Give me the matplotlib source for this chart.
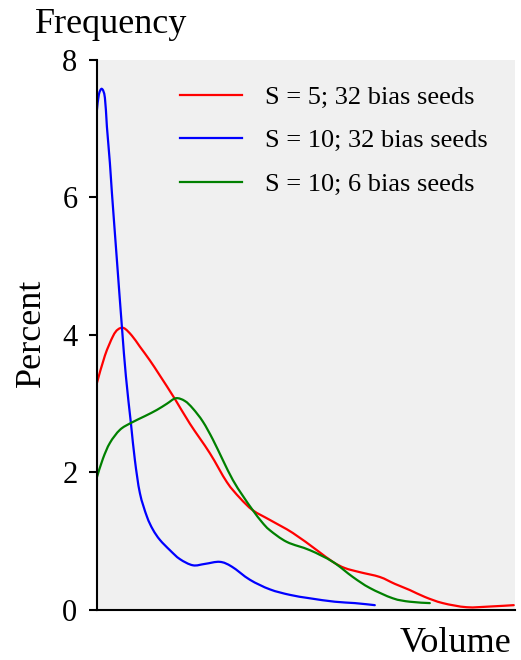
import matplotlib
matplotlib.use('Agg')
import matplotlib.pyplot as plt
from matplotlib.path import Path
from matplotlib.patches import PathPatch
from matplotlib.lines import Line2D

plt.rcParams['font.family'] = ['Liberation Serif', 'DejaVu Serif']

# volume (arbitrary units) vs. percent for each run
x_s5_32 = [0, 0.8, 1.6, 2.1, 2.7, 3.5, 4.3, 5.3, 6.3, 7.8, 9.3, 11.3, 13.0, 14.3, 15.6, 17.3,
           19.6, 22.0, 23.6, 24.8, 26.3, 28.3, 29.8, 31.3, 32.8, 34.6, 37.0, 39.3, 41.7]
y_s5_32 = [3.30, 3.70, 3.98, 4.08, 4.10, 3.99, 3.83, 3.63, 3.41, 3.07, 2.71, 2.28, 1.86, 1.63, 1.45, 1.31,
           1.12, 0.87, 0.70, 0.61, 0.55, 0.48, 0.38, 0.29, 0.19, 0.10, 0.04, 0.05, 0.07]

x_s10_32 = [0, 0.2, 0.5, 0.8, 1.0, 1.3, 1.5, 2.0, 2.5, 2.9, 3.4, 3.8, 4.3, 5.0, 5.6, 6.3, 7.3, 8.3,
            9.6, 10.8, 12.3, 13.5, 15.3, 17.3, 19.3, 21.3, 23.8, 25.8, 27.8]
y_s10_32 = [7.27, 7.50, 7.58, 7.45, 7.03, 6.50, 6.07, 5.09, 4.12, 3.40, 2.72, 2.18, 1.70, 1.36, 1.17, 1.02, 0.87, 0.74,
            0.65, 0.67, 0.70, 0.63, 0.44, 0.30, 0.22, 0.17, 0.12, 0.10, 0.07]

x_s10_6 = [0, 0.6, 1.3, 2.3, 3.4, 4.8, 6.0, 7.0, 7.9, 8.8, 9.6, 10.6, 11.6, 12.6, 13.6, 14.6,
           15.6, 16.5, 17.3, 19.0, 21.3, 23.6, 25.6, 27.3, 29.6, 31.3, 33.3]
y_s10_6 = [1.93, 2.20, 2.43, 2.62, 2.72, 2.82, 2.91, 3.00, 3.08, 3.04, 2.93, 2.74, 2.48, 2.18, 1.89, 1.66,
           1.45, 1.28, 1.16, 0.99, 0.87, 0.70, 0.48, 0.32, 0.17, 0.12, 0.10]

labels = ['S = 5; 32 bias seeds', 'S = 10; 32 bias seeds', 'S = 10; 6 bias seeds']
colors = ['red', 'blue', 'green']
yticks = [0, 2, 4, 6, 8]


def smooth_path(xs, ys):
    # Catmull-Rom through the points, written as cubic bezier segments
    pts = list(zip(xs, ys))
    verts = [pts[0]]
    codes = [Path.MOVETO]
    n = len(pts)
    for i in range(n - 1):
        p0 = pts[i - 1] if i > 0 else pts[i]
        p1 = pts[i]
        p2 = pts[i + 1]
        p3 = pts[i + 2] if i + 2 < n else pts[i + 1]
        c1 = (p1[0] + (p2[0] - p0[0]) / 6, p1[1] + (p2[1] - p0[1]) / 6)
        c2 = (p2[0] - (p3[0] - p1[0]) / 6, p2[1] - (p3[1] - p1[1]) / 6)
        verts += [c1, c2, p2]
        codes += [Path.CURVE4] * 3
    return Path(verts, codes)


fig = plt.figure(figsize=(5.21, 6.60), dpi=100)
ax = fig.add_axes([0.186, 0.0758, 0.802, 0.8333])
ax.set_facecolor('#f0f0f0')

series = [(x_s5_32, y_s5_32), (x_s10_32, y_s10_32), (x_s10_6, y_s10_6)]
for (xs, ys), c in zip(series, colors):
    ax.add_patch(PathPatch(smooth_path(xs, ys), fill=False, edgecolor=c, lw=1.6,
                           capstyle='round', joinstyle='round'))

ax.set_xlim(0, 41.8)
ax.set_ylim(0, 8)
ax.set_xticks([])
ax.set_yticks(yticks)
ax.tick_params(axis='y', length=6, width=1.5, pad=8, labelsize=22)

for side in ['top', 'right']:
    ax.spines[side].set_visible(False)
for side in ['left', 'bottom']:
    ax.spines[side].set_linewidth(1.5)

handles = [Line2D([], [], color=c, lw=1.6) for c in colors]
ax.legend(handles, labels, loc='upper left', bbox_to_anchor=(0.142, 0.997), frameon=False,
          fontsize=19, handlelength=2.35, handletextpad=0.87, labelspacing=0.76)

fig.text(35 / 521, 1 - 33 / 660, 'Frequency', fontsize=26, ha='left', va='baseline')
fig.text(31 / 521, 1 - 333 / 660, 'Percent', fontsize=26, rotation=90, ha='center', va='center')
fig.text(511 / 521, 1 - 652 / 660, 'Volume', fontsize=26, ha='right', va='baseline')

fig.savefig('out.png', dpi=100)
